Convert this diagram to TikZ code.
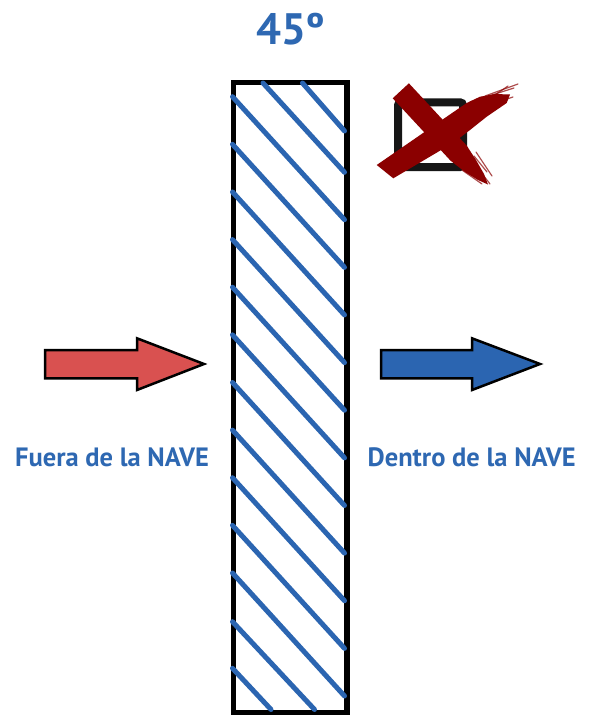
\documentclass[tikz,border=0pt]{standalone}
\usepackage{fontspec}
\setmainfont{PT Sans}
\definecolor{bl}{RGB}{43,101,177}
\definecolor{txtbl}{RGB}{46,104,178}
\definecolor{redarrow}{RGB}{217,81,80}
\definecolor{xred}{RGB}{139,0,0}
\definecolor{boxgray}{RGB}{22,22,22}
\tikzset{
  wall/.style={draw=black, line width=5.5pt},
  hatch/.style={draw=bl, line width=5pt, line cap=round},
  flowarrow/.style={draw=black, line width=2.5pt, line join=miter},
  lbl/.style={text=txtbl, font=\bfseries\fontsize{26.5}{30}\selectfont, anchor=base, inner sep=0pt},
  xstroke/.style={fill=xred, draw=none},
  bristle/.style={draw=xred, line width=1.2pt, opacity=0.7, line cap=round}
}
\begin{document}
\begin{tikzpicture}[x=1pt,y=-1pt]
\useasboundingbox (0,0) rectangle (592,715);
\fill[white] (0,0) rectangle (592,715);

% title
\node[lbl, font=\bfseries\fontsize{44}{50}\selectfont] (title) at (291,44.5) {45º};

% wall
\draw[wall] (233.5,82.5) rectangle (347,712.5);

% hatching
\draw[hatch] (302.5,83) -- (344.5,131);
\draw[hatch] (263,83) -- (344.5,172.3);
\foreach \k in {0,...,10}{
  \pgfmathsetmacro\yl{96.7+47.63*\k}
  \draw[hatch] (232.5,\yl) -- (344.5,\yl+123);
}
\draw[hatch] (232.5,621.7) -- (314.5,709.5);
\draw[hatch] (232.5,668.3) -- (271,709.5);

% arrows
\draw[flowarrow, fill=redarrow] (45,350) -- (137,350) -- (137,338.3) -- (204,364) -- (137,390) -- (137,378.3) -- (45,378.3) -- cycle;
\draw[flowarrow, fill=bl] (381,350) -- (472,350) -- (472,338.3) -- (540,364) -- (472,390) -- (472,378.3) -- (381,378.3) -- cycle;

% labels
\node[lbl] (fuera) at (112,466) {Fuera de la NAVE};
\node[lbl] (dentro) at (471.7,466.5) {Dentro de la NAVE};

% checkbox
\draw[draw=boxgray, line width=8pt, rounded corners=3pt] (398,102.3) rectangle (463,167);

% red cross: stroke 1 (top-left to bottom-right)
\fill[xstroke] (392.7,98.3) -- (408.9,83.3) -- (466.7,145.6) -- (476,160) -- (484,174) -- (488,184.5)
  -- (478,180) -- (465,172) -- (450.5,160.6) -- cycle;
\draw[bristle] (470,158) -- (490,184);
\draw[bristle] (474,156) -- (487,172);
\draw[bristle] (462,170) -- (482,184);
\draw[bristle] (476,152) -- (492,176);
% stroke 2 (bottom-left to top-right)
\fill[xstroke] (376.7,165) -- (446.7,116.7) -- (466.7,103) -- (480,96.7) -- (495,94) -- (510,94.5)
  -- (506.7,103) -- (486.7,116.7) -- (470,130) -- (453,143) -- (393.3,178.3) -- cycle;
\draw[bristle] (470,102) -- (514,88);
\draw[bristle] (485,96) -- (518,84);
\draw[bristle] (480,108) -- (513,97);
\draw[bristle] (492,97) -- (508,86);
\end{tikzpicture}
\end{document}
